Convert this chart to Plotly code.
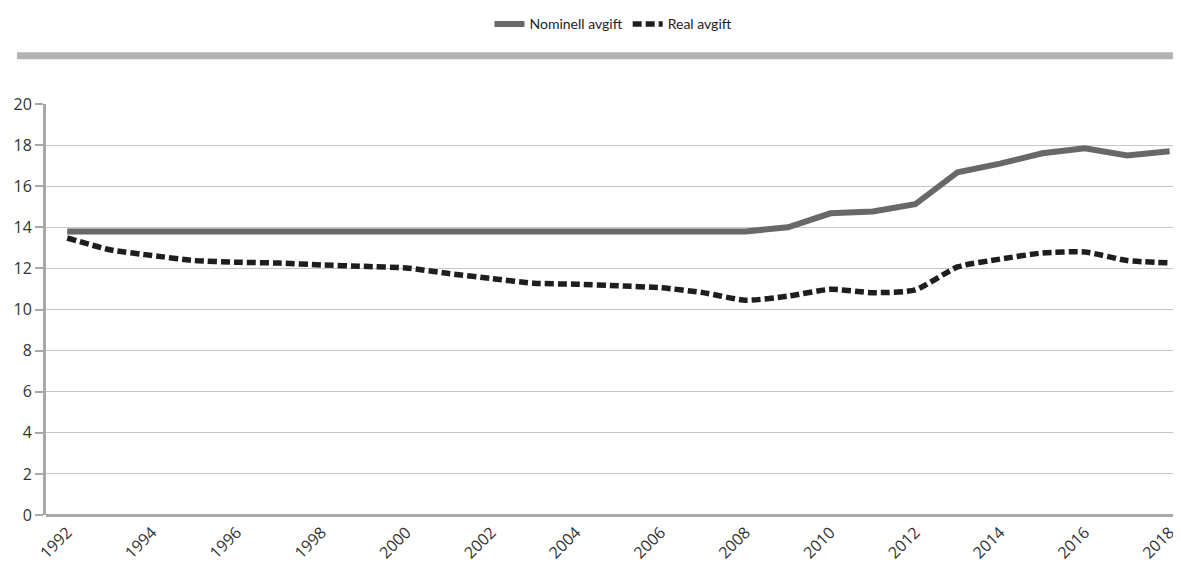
import plotly.graph_objects as go

years = list(range(1992, 2019))
nominell = [13.8, 13.8, 13.8, 13.8, 13.8, 13.8, 13.8, 13.8, 13.8, 13.8,
            13.8, 13.8, 13.8, 13.8, 13.8, 13.8, 13.8, 14.0, 14.68, 14.77,
            15.12, 16.68, 17.1, 17.6, 17.85, 17.5, 17.7]
real = [13.48, 12.91, 12.63, 12.38, 12.3, 12.26, 12.17, 12.1, 12.02, 11.75,
        11.51, 11.28, 11.23, 11.15, 11.06, 10.82, 10.45, 10.65, 10.98, 10.82,
        10.95, 12.07, 12.45, 12.75, 12.8, 12.38, 12.27]
tick_years = list(range(1992, 2019, 2))
y_ticks = list(range(0, 21, 2))

OFF = 8  # page body margin
W, H = 1181 - OFF, 563 - OFF
L, R, T, B = 46 - OFF, 0, 102 - OFF, 48
ph = H - T - B
pw = W - L - R

fig = go.Figure()
fig.add_trace(go.Scatter(x=years, y=nominell, mode="lines", name="Nominell avgift",
                         line=dict(color="#686868", width=6)))
fig.add_trace(go.Scatter(x=years, y=real, mode="lines", name="Real avgift",
                         line=dict(color="#1e1e1e", width=5.5, dash="9px,4px",
                                   shape="spline", smoothing=0.6)))

fig.add_shape(type="rect", xref="paper", yref="paper",
              x0=(17 - 46) / pw, x1=1.0,
              y0=(563 - B - 57) / ph, y1=(563 - B - 50) / ph,
              fillcolor="#b2b3b5", line=dict(width=0), layer="above")

font_family = "Open Sans, Lato, sans-serif"
fig.update_layout(
    width=W, height=H,
    margin=dict(l=L, r=R, t=T, b=B),
    paper_bgcolor="white", plot_bgcolor="white",
    font=dict(family=font_family, color="#2b2b2b"),
    legend=dict(orientation="h", x=0.5, xanchor="center",
                y=(563 - B - 22) / ph, yanchor="middle",
                font=dict(size=14, family="Lato, sans-serif", color="#222"),
                itemwidth=30, tracegroupgap=0),
    xaxis=dict(range=[1991.5, 1991.5 + pw / 42.4], tickvals=tick_years,
               ticktext=[str(y) for y in tick_years], tickangle=-45,
               showgrid=False, zeroline=False, showline=False,
               ticks="", ticklabelstandoff=4,
               tickfont=dict(size=16, color="#333")),
    yaxis=dict(range=[0, 20], tickvals=y_ticks, showgrid=True,
               gridcolor="#c6c6c6", gridwidth=1, zeroline=True,
               zerolinecolor="#a9a9a9", zerolinewidth=2.5,
               showline=True, linecolor="#a9a9a9", linewidth=3,
               ticks="outside", ticklen=8, tickcolor="#a9a9a9", tickwidth=2,
               tickfont=dict(size=16, color="#333")),
)

fig.write_html("out.html")
